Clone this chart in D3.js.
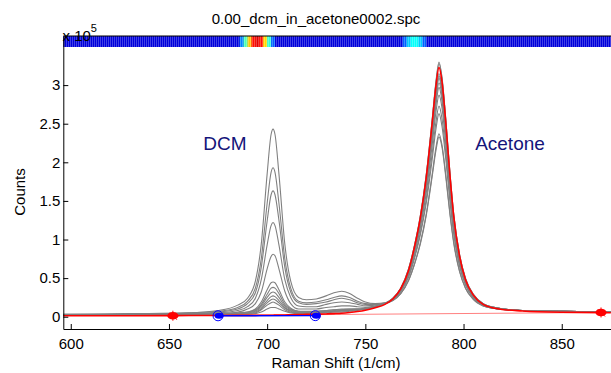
<!DOCTYPE html>
<html><head><meta charset="utf-8">
<script src="https://cdn.jsdelivr.net/npm/d3@7"></script>
<style>body{margin:0;background:#fff} text{font-family:"Liberation Sans",Arial,sans-serif}</style>
</head><body><svg id="c" width="611" height="373"></svg>
<script>
// Raman shift grid (1/cm)
const xs = [596,630,660,675,685,690,694,697,700,702,703,704,706,709,712,716,720,725,730,734,738,742,746,750,755,760,764,768,772,775,778,781,784,786,787.5,789,791,793,795,798,801,805,810,818,830,850,875];
// counts in units of 1e5
const g1 = [0.03,0.04,0.05,0.08,0.15,0.24,0.46,0.94,1.85,2.36,2.43,2.36,1.85,0.94,0.46,0.25,0.22,0.23,0.27,0.31,0.33,0.30,0.24,0.19,0.17,0.18,0.21,0.30,0.47,0.68,0.94,1.31,1.81,2.16,2.33,2.20,1.80,1.34,0.95,0.58,0.37,0.22,0.14,0.10,0.08,0.07,0.06];
const g2 = [0.03,0.03,0.05,0.07,0.12,0.20,0.37,0.75,1.47,1.87,1.93,1.87,1.47,0.75,0.37,0.20,0.18,0.19,0.22,0.25,0.27,0.25,0.20,0.17,0.16,0.17,0.21,0.30,0.47,0.68,0.96,1.33,1.84,2.20,2.37,2.23,1.83,1.36,0.97,0.59,0.37,0.23,0.14,0.10,0.08,0.07,0.06];
const g3 = [0.02,0.03,0.04,0.06,0.10,0.17,0.31,0.64,1.24,1.58,1.63,1.58,1.25,0.64,0.32,0.18,0.16,0.17,0.19,0.22,0.24,0.22,0.18,0.16,0.16,0.18,0.22,0.32,0.51,0.75,1.06,1.47,2.03,2.44,2.63,2.47,2.03,1.51,1.07,0.65,0.41,0.24,0.15,0.10,0.08,0.07,0.06];
const g4 = [0.02,0.03,0.04,0.05,0.08,0.13,0.24,0.48,0.93,1.18,1.22,1.18,0.93,0.48,0.25,0.14,0.13,0.13,0.16,0.18,0.19,0.18,0.16,0.14,0.15,0.17,0.22,0.33,0.53,0.78,1.09,1.52,2.11,2.53,2.73,2.57,2.11,1.56,1.10,0.67,0.42,0.25,0.15,0.10,0.08,0.07,0.06];
const g5 = [0.02,0.03,0.03,0.04,0.06,0.10,0.17,0.32,0.62,0.78,0.81,0.79,0.62,0.33,0.17,0.10,0.10,0.10,0.12,0.13,0.14,0.14,0.13,0.12,0.14,0.17,0.23,0.34,0.55,0.81,1.15,1.60,2.22,2.66,2.87,2.71,2.22,1.65,1.16,0.70,0.44,0.26,0.16,0.10,0.08,0.07,0.06];
const g6 = [0.02,0.02,0.03,0.03,0.05,0.06,0.10,0.19,0.35,0.44,0.45,0.44,0.35,0.19,0.11,0.07,0.07,0.07,0.08,0.09,0.10,0.10,0.10,0.11,0.13,0.17,0.23,0.34,0.56,0.84,1.18,1.66,2.30,2.75,2.97,2.80,2.30,1.70,1.20,0.73,0.45,0.27,0.16,0.10,0.08,0.07,0.06];
const g7 = [0.02,0.02,0.03,0.03,0.04,0.06,0.09,0.16,0.29,0.37,0.38,0.37,0.30,0.16,0.10,0.07,0.06,0.07,0.08,0.09,0.09,0.10,0.10,0.11,0.13,0.17,0.23,0.35,0.57,0.85,1.21,1.69,2.34,2.81,3.03,2.86,2.34,1.74,1.22,0.74,0.46,0.27,0.16,0.11,0.08,0.07,0.06];
const g8 = [0.02,0.02,0.03,0.03,0.04,0.05,0.08,0.14,0.25,0.31,0.32,0.31,0.25,0.14,0.09,0.06,0.06,0.06,0.07,0.08,0.09,0.09,0.10,0.10,0.13,0.17,0.23,0.36,0.58,0.87,1.23,1.72,2.39,2.86,3.09,2.91,2.39,1.77,1.25,0.75,0.47,0.28,0.16,0.11,0.08,0.07,0.06];
const g9 = [0.02,0.02,0.03,0.03,0.04,0.05,0.07,0.12,0.21,0.26,0.27,0.26,0.21,0.12,0.08,0.06,0.06,0.06,0.07,0.07,0.08,0.09,0.09,0.10,0.13,0.17,0.23,0.36,0.59,0.88,1.24,1.74,2.41,2.89,3.12,2.94,2.41,1.79,1.26,0.76,0.47,0.28,0.16,0.11,0.08,0.07,0.06];
const g10 = [0.02,0.02,0.03,0.03,0.04,0.04,0.06,0.10,0.18,0.22,0.23,0.22,0.18,0.11,0.07,0.05,0.05,0.06,0.06,0.07,0.08,0.08,0.09,0.10,0.13,0.17,0.23,0.36,0.59,0.88,1.25,1.75,2.43,2.92,3.15,2.97,2.43,1.80,1.27,0.77,0.48,0.28,0.17,0.11,0.08,0.07,0.06];
const g11 = [0.02,0.02,0.02,0.03,0.03,0.04,0.05,0.09,0.15,0.18,0.19,0.18,0.15,0.09,0.06,0.05,0.05,0.05,0.06,0.07,0.07,0.08,0.09,0.10,0.13,0.17,0.24,0.37,0.62,0.92,1.30,1.83,2.53,3.04,3.28,3.09,2.53,1.88,1.32,0.80,0.49,0.29,0.17,0.11,0.08,0.07,0.06];
const g12 = [0.02,0.02,0.02,0.03,0.03,0.03,0.04,0.06,0.10,0.12,0.12,0.12,0.10,0.07,0.05,0.04,0.04,0.05,0.05,0.06,0.06,0.07,0.08,0.10,0.13,0.17,0.24,0.37,0.62,0.92,1.31,1.84,2.55,3.06,3.30,3.11,2.55,1.89,1.33,0.80,0.50,0.29,0.17,0.11,0.08,0.07,0.06];
const redTrace = [0.012,0.013,0.015,0.016,0.017,0.018,0.018,0.019,0.020,0.020,0.020,0.021,0.022,0.023,0.025,0.027,0.030,0.033,0.036,0.040,0.045,0.055,0.068,0.085,0.115,0.16,0.23,0.36,0.60,0.90,1.28,1.80,2.50,3.00,3.23,3.05,2.50,1.85,1.30,0.78,0.48,0.28,0.16,0.10,0.075,0.058,0.052];
// baseline anchors
const redMarkX = [652, 870];
const redMarkY = [0.013, 0.055];
const blueMarkX = [675, 724.5];
const blueMarkY = [0.012, 0.014];
// colour strip (cell edges in 1/cm, jet value per cell)
const stripEdges = [596,686,688,690,692,694,696,698,700,702,704,769,771,773,777,779,781,876];
const stripVals  = [0.09,0.25,0.45,0.68,0.86,0.9,0.86,0.66,0.42,0.22,0.09,0.22,0.32,0.38,0.32,0.22,0.09];
// ticks and labels
const xTicks = [600,650,700,750,800,850];
const yTicks = [0,0.5,1,1.5,2,2.5,3];
const titleText = "0.00_dcm_in_acetone0002.spc";
const xLabel = "Raman Shift (1/cm)";
const yLabel = "Counts";
const peakLabels = ["DCM","Acetone"];
const peakLabelX = [225,510];

const grayTraces = [g1,g2,g3,g4,g5,g6,g7,g8,g9,g10,g11,g12];
const svg = d3.select("#c");
const L=63.3, R=612.8, T=36, B=329;
const x = d3.scaleLinear().domain([596.2, 876]).range([L, R]);
const y = d3.scaleLinear().domain([-0.159, 3.636]).range([B, T]);

svg.append("defs").append("clipPath").attr("id","clip").append("rect")
  .attr("x",L).attr("y",T).attr("width",R-L).attr("height",B-T);
const pat = svg.select("defs").append("pattern").attr("id","stripes")
  .attr("width",2).attr("height",12).attr("patternUnits","userSpaceOnUse");
pat.append("rect").attr("x",0).attr("y",0).attr("width",1).attr("height",12).attr("fill","#fff").attr("opacity",0.25);

const line = d3.line().x((d,i)=>x(xs[i])).y(d=>y(d)).curve(d3.curveMonotoneX);
const g = svg.append("g").attr("clip-path","url(#clip)");
g.selectAll("path.gray").data(grayTraces).join("path").attr("class","gray")
  .attr("d",line).attr("fill","none").attr("stroke","#808080").attr("stroke-width",1.1);
// pink baseline
g.append("path").attr("d", d3.line()(redMarkX.map((v,i)=>[x(v),y(redMarkY[i])])))
  .attr("stroke","#ff8080").attr("stroke-width",1).attr("fill","none");
g.append("path").datum(redTrace).attr("d",line).attr("fill","none").attr("stroke","#ff0000").attr("stroke-width",1.6);
// blue line + markers
g.append("path").attr("d", d3.line()(blueMarkX.map((v,i)=>[x(v),y(blueMarkY[i])])))
  .attr("stroke","#0000ff").attr("stroke-width",1.4).attr("fill","none");
blueMarkX.forEach((v,i)=>{
  g.append("ellipse").attr("cx",x(v)+1).attr("cy",y(blueMarkY[i])).attr("rx",4.5).attr("ry",3).attr("fill","#0000ff");
  g.append("circle").attr("cx",x(v)).attr("cy",y(blueMarkY[i])).attr("r",5).attr("fill","none").attr("stroke","#0000ff").attr("stroke-width",1);
});
redMarkX.forEach((v,i)=>{
  const cx=x(v), cy=y(redMarkY[i]);
  g.append("ellipse").attr("cx",cx).attr("cy",cy).attr("rx",5.5).attr("ry",3.8).attr("fill","#ff0000");
  g.append("path").attr("d",`M${cx-6},${cy}H${cx+6}M${cx},${cy-5}V${cy+5}M${cx-3},${cy-3}L${cx+4},${cy+4}`)
    .attr("stroke","#ff0000").attr("stroke-width",1);
});

// colour strip
const jet = v => { const c=t=>Math.max(0,Math.min(1,t)); return d3.rgb(255*c(1.5-Math.abs(4*v-3)),255*c(1.5-Math.abs(4*v-2)),255*c(1.5-Math.abs(4*v-1))); };
const strip = svg.append("g").attr("clip-path","url(#clip)");
strip.selectAll("rect").data(stripVals).join("rect")
  .attr("x",(d,i)=>x(stripEdges[i])).attr("width",(d,i)=>x(stripEdges[i+1])-x(stripEdges[i])+0.5)
  .attr("y",T).attr("height",11).attr("fill",d=>jet(d));
strip.append("rect").attr("x",L).attr("y",T).attr("width",R-L).attr("height",11).attr("fill","url(#stripes)");

// axes
const ax = svg.append("g").attr("transform",`translate(0,${B})`)
  .call(d3.axisBottom(x).tickValues(xTicks).tickSizeInner(-5).tickSizeOuter(0));
ax.selectAll("text").attr("y",20).attr("dy",0).attr("font-size",15).attr("fill","#000");
const ay = svg.append("g").attr("transform",`translate(${L},0)`)
  .call(d3.axisLeft(y).tickValues(yTicks).tickSizeInner(-5).tickSizeOuter(0).tickFormat(d=>String(d)));
ay.selectAll("text").attr("x",-3).attr("font-size",15).attr("fill","#000");
svg.selectAll(".domain,.tick line").attr("stroke","#000");
svg.append("line").attr("x1",L).attr("x2",R).attr("y1",T).attr("y2",T).attr("stroke","#000");

// texts
svg.append("text").attr("x",316).attr("y",24).attr("text-anchor","middle").attr("font-size",15).text(titleText);
svg.append("text").attr("x",336).attr("y",368).attr("text-anchor","middle").attr("font-size",15).text(xLabel);
svg.append("text").attr("transform","translate(24.5,192) rotate(-90)").attr("text-anchor","middle").attr("font-size",15).text(yLabel);
const e = svg.append("text").attr("x",62.5).attr("y",40.5).attr("font-size",15);
e.append("tspan").text("x 10");
e.append("tspan").attr("dy",-9).attr("font-size",11).text("5");
peakLabels.forEach((t,i)=>svg.append("text").attr("x",peakLabelX[i]).attr("y",150).attr("text-anchor","middle")
  .attr("font-size",19).attr("fill","#14147a").text(t));
</script></body></html>
